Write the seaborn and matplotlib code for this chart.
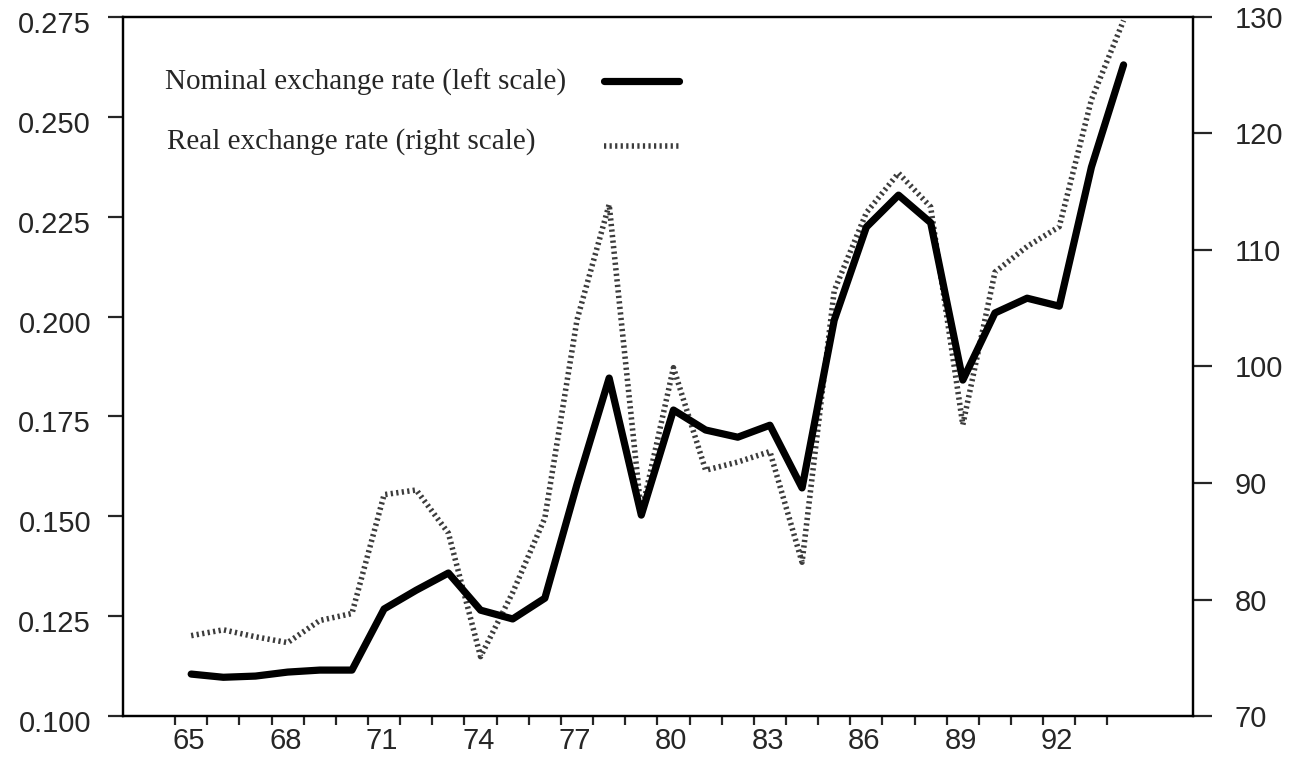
import matplotlib
matplotlib.use("Agg")
import matplotlib.pyplot as plt
import matplotlib.transforms as mtransforms
import seaborn as sns
import pandas as pd

# data (values plotted at mid-year)
years = list(range(65, 95))
nominal = [0.1105, 0.1097, 0.1100, 0.1110, 0.1115, 0.1115, 0.1268, 0.1315,
           0.1358, 0.1265, 0.1243, 0.1295, 0.1580, 0.1846, 0.1503, 0.1766,
           0.1716, 0.1698, 0.1728, 0.1571, 0.1991, 0.2224, 0.2304, 0.2235,
           0.1841, 0.2009, 0.2046, 0.2026, 0.2374, 0.2630]
real = [76.9, 77.4, 76.8, 76.3, 78.2, 78.8, 89.0, 89.4, 85.7, 75.1,
        80.6, 87.0, 104.0, 113.9, 87.4, 99.9, 91.1, 91.8, 92.7, 83.2,
        106.5, 113.2, 116.6, 113.7, 95.0, 108.1, 110.3, 112.0, 122.9, 129.7]
left_ticks = [0.100, 0.125, 0.150, 0.175, 0.200, 0.225, 0.250, 0.275]
right_ticks = [70, 80, 90, 100, 110, 120, 130]
label_years = years[::3]
nominal_label = "Nominal exchange rate (left scale)"
real_label = "Real exchange rate (right scale)"

df = pd.DataFrame({"year": years, "nominal": nominal, "real": real})
df["x"] = df["year"] + 0.5

sns.set_style("ticks")
plt.rcParams["font.family"] = ["Liberation Sans", "DejaVu Sans"]

fig = plt.figure(figsize=(12.91, 7.61), dpi=100)
ax = fig.add_axes([0.0953, 0.0591, 0.8288, 0.9186])
ax2 = ax.twinx()

real_style = dict(color="#3c3c3c", linewidth=4, linestyle=(0, (0.4, 0.6)))
nom_style = dict(color="black", linewidth=5.2)

sns.lineplot(data=df, x="x", y="real", ax=ax2, legend=False, **real_style)
sns.lineplot(data=df, x="x", y="nominal", ax=ax, legend=False, **nom_style)
ax.set_zorder(ax2.get_zorder() + 1)
ax.patch.set_visible(False)

ax.set_xlim(63.38, 96.66)
ax.set_ylim(0.100, 0.275)
ax2.set_ylim(70, 130)

ax.set_xticks(label_years)
ax.set_xticks(years, minor=True)
ax.set_xticklabels([str(y) for y in label_years])
ax.set_yticks(left_ticks)
ax.set_yticklabels([f"{v:.3f}" for v in left_ticks])
ax2.set_yticks(right_ticks)
ax2.set_yticklabels([str(v) for v in right_ticks])
ax.set_xlabel("")
ax.set_ylabel("")
ax2.set_ylabel("")

for a in (ax, ax2):
    for s in a.spines.values():
        s.set_visible(True)
        s.set_linewidth(1.6)
        s.set_color("black")

ax.tick_params(axis="x", which="both", length=6.5, width=1.6, pad=1.5,
               labelsize=21, direction="out")
ax.tick_params(axis="y", length=11, width=1.6, pad=12, labelsize=21)
ax2.tick_params(axis="y", length=14, width=1.6, pad=16, labelsize=21)

# year labels sit a bit to the right of their ticks, left labels a bit low
xshift = mtransforms.ScaledTranslation(14 / 100, 0, fig.dpi_scale_trans)
for lbl in ax.get_xticklabels():
    lbl.set_transform(lbl.get_transform() + xshift)
yshift = mtransforms.ScaledTranslation(0, -5 / 100, fig.dpi_scale_trans)
for lbl in ax.get_yticklabels():
    lbl.set_transform(lbl.get_transform() + yshift)

# legend: serif labels on the left, line samples lined up to the right
serif = {"family": "Liberation Serif", "size": 21}
ax.text(0.039, 0.8955, nominal_label, transform=ax.transAxes,
        va="baseline", ha="left", fontdict=serif)
ax.text(0.041, 0.812, real_label, transform=ax.transAxes,
        va="baseline", ha="left", fontdict=serif)
h_nom = plt.Line2D([], [], **nom_style)
h_real = plt.Line2D([], [], **real_style)
leg1 = ax.legend([h_nom], [""], loc="center left",
                 bbox_to_anchor=(0.4355, 0.9035), frameon=False,
                 borderpad=0, handlelength=2.6, handletextpad=0, prop=serif)
ax.add_artist(leg1)
ax.legend([h_real], [""], loc="center left",
          bbox_to_anchor=(0.4355, 0.811), frameon=False,
          borderpad=0, handlelength=2.6, handletextpad=0, prop=serif)

fig.savefig("out.png", dpi=100)
